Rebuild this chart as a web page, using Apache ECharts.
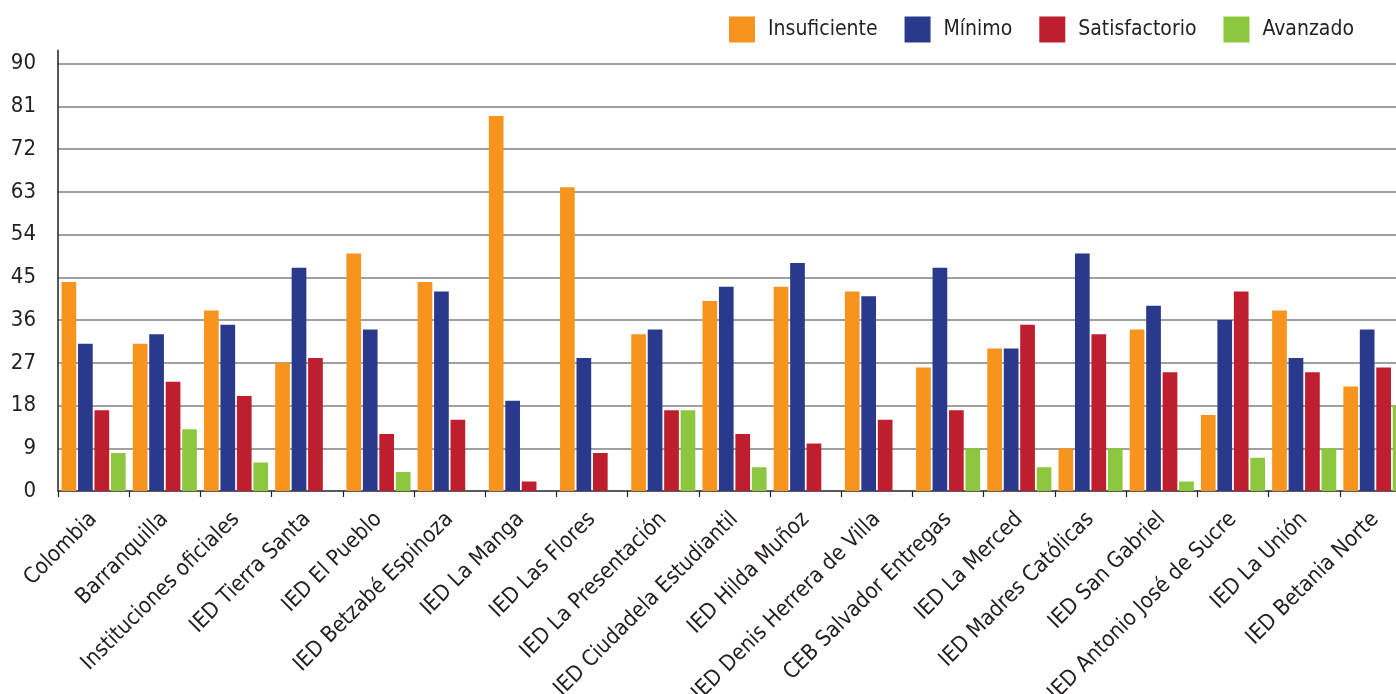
<!DOCTYPE html>
<html>
<head>
<meta charset="utf-8">
<script src="https://cdn.jsdelivr.net/npm/echarts@6/dist/echarts.min.js"></script>
<style>
  html, body { margin: 0; padding: 0; background: #fff; }
  #chart { width: 1396px; height: 694px; }
</style>
</head>
<body>
<div id="chart"></div>
<script>
const categories = [
  'Colombia', 'Barranquilla', 'Instituciones oficiales', 'IED Tierra Santa',
  'IED El Pueblo', 'IED Betzabé Espinoza', 'IED La Manga', 'IED Las Flores',
  'IED La Presentación', 'IED Ciudadela Estudiantil', 'IED Hilda Muñoz',
  'IED Denis Herrera de Villa', 'CEB Salvador Entregas', 'IED La Merced',
  'IED Madres Católicas', 'IED San Gabriel', 'IED Antonio José de Sucre',
  'IED La Unión', 'IED Betania Norte'
];
const insuficiente = [44, 31, 38, 27, 50, 44, 79, 64, 33, 40, 43, 42, 26, 30, 9, 34, 16, 38, 22];
const minimo       = [31, 33, 35, 47, 34, 42, 19, 28, 34, 43, 48, 41, 47, 30, 50, 39, 36, 28, 34];
const satisfact    = [17, 23, 20, 28, 12, 15, 2, 8, 17, 12, 10, 15, 17, 35, 33, 25, 42, 25, 26];
const avanzado     = [8, 13, 6, 0, 4, 0, 0, 0, 17, 5, 0, 0, 9, 5, 9, 2, 7, 9, 18];

const FONT = "'Liberation Sans Narrow', 'DejaVu Sans Condensed', 'Noto Sans', sans-serif";
const TEXT = '#231f20';

const mkSeries = (name, data, color) => ({
  name, type: 'bar', data,
  barGap: '12%', barCategoryGap: '10%',
  itemStyle: { color },
  emphasis: { disabled: true }
});

const chart = echarts.init(document.getElementById('chart'));
chart.setOption({
  animation: false,
  textStyle: { fontFamily: FONT },
  legend: {
    left: 729, top: 16.5, padding: 0,
    itemWidth: 26, itemHeight: 26, itemGap: 27,
    icon: 'rect',
    textStyle: { fontFamily: FONT, fontSize: 21, color: TEXT, padding: [0, 0, 0, 8] }
  },
  grid: { left: 58, top: 63.7, width: 1353, bottom: 203, containLabel: false, outerBoundsMode: 'none' },
  xAxis: {
    type: 'category',
    data: categories,
    axisLine: { lineStyle: { color: '#444', width: 1.5 } },
    axisTick: { show: true, length: 6, lineStyle: { color: TEXT, width: 1.2 } },
    axisLabel: { interval: 0, rotate: 45, margin: 25, fontSize: 22, color: TEXT, fontFamily: FONT }
  },
  yAxis: {
    type: 'value', min: 0, max: 90, interval: 9,
    axisLine: { show: true, lineStyle: { color: TEXT, width: 1.5 } },
    axisTick: { show: false },
    axisLabel: { margin: 22, fontSize: 22, color: TEXT, fontFamily: FONT },
    splitLine: { lineStyle: { color: '#808080', width: 1.6 } }
  },
  series: [
    mkSeries('Insuficiente', insuficiente, '#f7941d'),
    mkSeries('Mínimo', minimo, '#293a8d'),
    mkSeries('Satisfactorio', satisfact, '#be1e2d'),
    mkSeries('Avanzado', avanzado, '#8dc63f')
  ]
});

// the y axis line runs a little above the top gridline
const yTop = chart.convertToPixel({ yAxisIndex: 0 }, 90);
const axisX = 58;
chart.setOption({
  graphic: [{
    type: 'line', z: 10,
    shape: { x1: axisX, y1: yTop - 14, x2: axisX, y2: yTop },
    style: { stroke: TEXT, lineWidth: 1.5 }
  }]
});
</script>
</body>
</html>
